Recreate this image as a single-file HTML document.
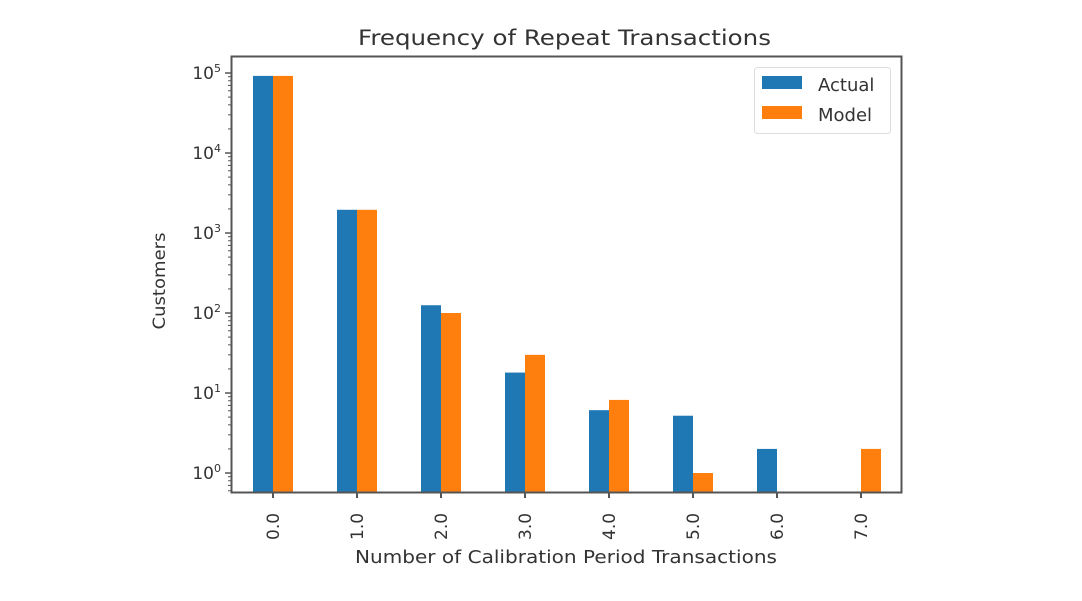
<!DOCTYPE html>
<html><head><meta charset="utf-8"><style>
body{margin:0;background:#fff;}
svg text{font-family:"DejaVu Sans","Liberation Sans",sans-serif;fill:#333;}
</style></head><body>
<svg width="1082" height="596" xmlns="http://www.w3.org/2000/svg">
<g id="bars"></g>
<g id="yticks"></g>
<g id="xticks"></g>
<rect x="231.5" y="56.5" width="670" height="436" fill="none" stroke="#555" stroke-width="2"/>
<text x="358" y="45" font-size="21" textLength="413" lengthAdjust="spacingAndGlyphs">Frequency of Repeat Transactions</text>
<text x="355" y="563" font-size="18" textLength="422" lengthAdjust="spacingAndGlyphs">Number of Calibration Period Transactions</text>
<text transform="translate(165,281) rotate(-90)" font-size="17" text-anchor="middle" textLength="97" lengthAdjust="spacingAndGlyphs">Customers</text>
<g>
<rect x="754.5" y="67.5" width="136" height="66" rx="3" fill="#fff" stroke="#ddd"/>
<rect x="762" y="76" width="40" height="13" fill="#1f77b4"/>
<text x="818" y="91" font-size="18">Actual</text>
<rect x="762" y="106" width="40" height="13" fill="#ff7f0e"/>
<text x="818" y="121" font-size="18">Model</text>
</g>
</svg>
<script>
const categories=["0.0","1.0","2.0","3.0","4.0","5.0","6.0","7.0"];
const actual=[92000,1950,125,18,6.1,5.2,2,0];
const model=[92000,1950,100,30,8.2,1,0,2];
const yTickExp=[0,1,2,3,4,5];
const NS="http://www.w3.org/2000/svg";
const L=231,R=901,T=56,B=492;
const x0=273,dx=84,bw=20;
function xc(i){return x0+i*dx;}
function y(v){return 473-Math.log10(v)*80;}
const bars=document.getElementById('bars');
function mk(tag,attrs,parent){const e=document.createElementNS(NS,tag);for(const k in attrs)e.setAttribute(k,attrs[k]);parent.appendChild(e);return e;}
categories.forEach((c,i)=>{
  [[actual,'#1f77b4',-bw,'actual'],[model,'#ff7f0e',0,'model']].forEach(([arr,col,off,nm])=>{
    const v=arr[i]; if(!(v>0))return;
    const yt=y(v);
    const r=mk('rect',{x:xc(i)+off,y:yt,width:bw,height:B-yt,fill:col},bars);
    
    
  });
  const xt=document.getElementById('xticks');
  mk('line',{x1:xc(i),x2:xc(i),y1:B,y2:B+6,stroke:'#555','stroke-width':2},xt);
  const t=mk('text',{transform:`translate(${xc(i)+6},${B+48}) rotate(-90)`,'font-size':'17'},xt);
  t.textContent=c;
  
  
});
const yt=document.getElementById('yticks');
yTickExp.forEach(e=>{
  const yy=y(Math.pow(10,e));
  mk('line',{x1:L-6,x2:L,y1:yy,y2:yy,stroke:'#555','stroke-width':1.5},yt);
  const t=mk('text',{x:L-10,y:yy+6,'font-size':'17','text-anchor':'end'},yt);
  t.innerHTML='10<tspan dy="-7" font-size="11">'+e+'</tspan>';
  
  
  for(let m=2;m<=9;m++){
    const ym=y(m*Math.pow(10,e)); if(ym<T)continue;
    mk('line',{x1:L-3,x2:L,y1:ym,y2:ym,stroke:'#555','stroke-width':1},yt);
  }
});
[2,3,4,5,6,7,8,9].forEach(m=>{const ym=y(m/10); if(ym<B) mk('line',{x1:L-3,x2:L,y1:ym,y2:ym,stroke:'#555','stroke-width':1},yt);});
</script>
</body></html>
